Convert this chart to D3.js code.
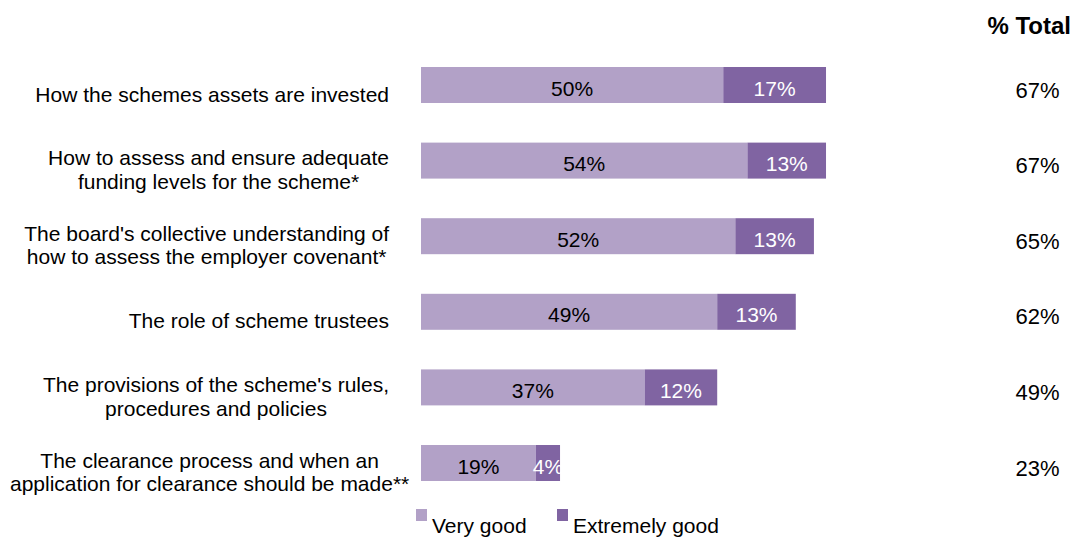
<!DOCTYPE html>
<html>
<head>
<meta charset="utf-8">
<script src="https://cdn.jsdelivr.net/npm/d3@7"></script>
<style>
  html, body { margin: 0; padding: 0; background: #fff; }
  svg { display: block; font-family: "Liberation Sans", Arial, sans-serif; }
</style>
</head>
<body>
<svg id="chart" width="1074" height="537"></svg>
<script>
// Survey items (each label may wrap onto two lines)
const categories = [
  ["How the schemes assets are invested"],
  ["How to assess and ensure adequate", "funding levels for the scheme*"],
  ["The board's collective understanding of", "how to assess the employer covenant*"],
  ["The role of scheme trustees"],
  ["The provisions of the scheme's rules,", "procedures and policies"],
  ["The clearance process and when an", "application for clearance should be made**"]
];
const veryGood      = [50, 54, 52, 49, 37, 19];
const extremelyGood = [17, 13, 13, 13, 12, 4];
const totals        = [67, 67, 65, 62, 49, 23];
const seriesNames   = ["Very good", "Extremely good"];
const colors        = ["#b2a1c7", "#8064a2"];

const svg = d3.select("#chart");
const fontSize = 21;

const x = d3.scaleLinear().domain([0, 100]).range([421, 1025.5]);
const y = d3.scaleBand()
  .domain(d3.range(categories.length))
  .range([47.2, 500.8])
  .paddingInner(0.524)
  .paddingOuter(0.262);

const rows = categories.map((c, i) => ({
  i, lines: c,
  segs: [
    { s: 0, v0: 0, v1: veryGood[i], v: veryGood[i] },
    { s: 1, v0: veryGood[i], v1: veryGood[i] + extremelyGood[i], v: extremelyGood[i] }
  ],
  total: totals[i]
}));

// Stacked bars
const g = svg.append("g");
const row = g.selectAll("g.row").data(rows).join("g").attr("class", "row");

row.selectAll("rect").data(d => d.segs.map(s => ({ ...s, i: d.i }))).join("rect")
  .attr("x", d => x(d.v0))
  .attr("y", d => y(d.i))
  .attr("width", d => x(d.v1) - x(d.v0))
  .attr("height", y.bandwidth())
  .attr("fill", d => colors[d.s]);

// Segment value labels
row.selectAll("text.val").data(d => d.segs.map(s => ({ ...s, i: d.i }))).join("text")
  .attr("class", "val")
  .attr("x", d => (x(d.v0) + x(d.v1)) / 2)
  .attr("y", d => y(d.i) + y.bandwidth() / 2 + 3)
  .attr("text-anchor", "middle")
  .attr("dominant-baseline", "central")
  .attr("font-size", fontSize)
  .attr("fill", d => d.s === 0 ? "#000" : "#fff")
  .text(d => d.v + "%");

// Category labels: block right-aligned next to the bars, lines centred within it,
// and kept inside the left edge of the page when a line is very long
const labelRight = 389;
const labelMinLeft = 10;
const lineH = 23.5;
row.each(function (d) {
  const grp = d3.select(this).append("g");
  const cy = y(d.i) + y.bandwidth() / 2 + 9;
  const texts = grp.selectAll("text").data(d.lines).join("text")
    .attr("font-size", fontSize)
    .attr("fill", "#000")
    .attr("dominant-baseline", "central")
    .attr("text-anchor", "middle")
    .attr("y", (l, k) => cy + (k - (d.lines.length - 1) / 2) * lineH)
    .text(l => l);
  const blockW = d3.max(texts.nodes(), n => n.getComputedTextLength());
  const left = Math.max(labelMinLeft, labelRight - blockW);
  texts.attr("x", left + blockW / 2);
});

// Totals column
svg.append("text")
  .attr("x", 1071)
  .attr("y", 25)
  .attr("text-anchor", "end")
  .attr("dominant-baseline", "central")
  .attr("font-size", 24)
  .attr("font-weight", "bold")
  .text("% Total");

svg.selectAll("text.total").data(rows).join("text")
  .attr("class", "total")
  .attr("x", 1037.5)
  .attr("y", d => y(d.i) + y.bandwidth() / 2 + 5)
  .attr("text-anchor", "middle")
  .attr("dominant-baseline", "central")
  .attr("font-size", 22)
  .text(d => d.total + "%");

// Legend
const legendX = [416, 557];
const lg = svg.selectAll("g.legend").data(seriesNames).join("g").attr("class", "legend")
  .attr("transform", (d, i) => `translate(${legendX[i]},0)`);
lg.append("rect").attr("x", 0).attr("y", 509).attr("width", 11).attr("height", 12)
  .attr("fill", (d, i) => colors[i]);
lg.append("text").attr("x", 16).attr("y", 533)
  .attr("font-size", fontSize)
  .text(d => d);
</script>
</body>
</html>
